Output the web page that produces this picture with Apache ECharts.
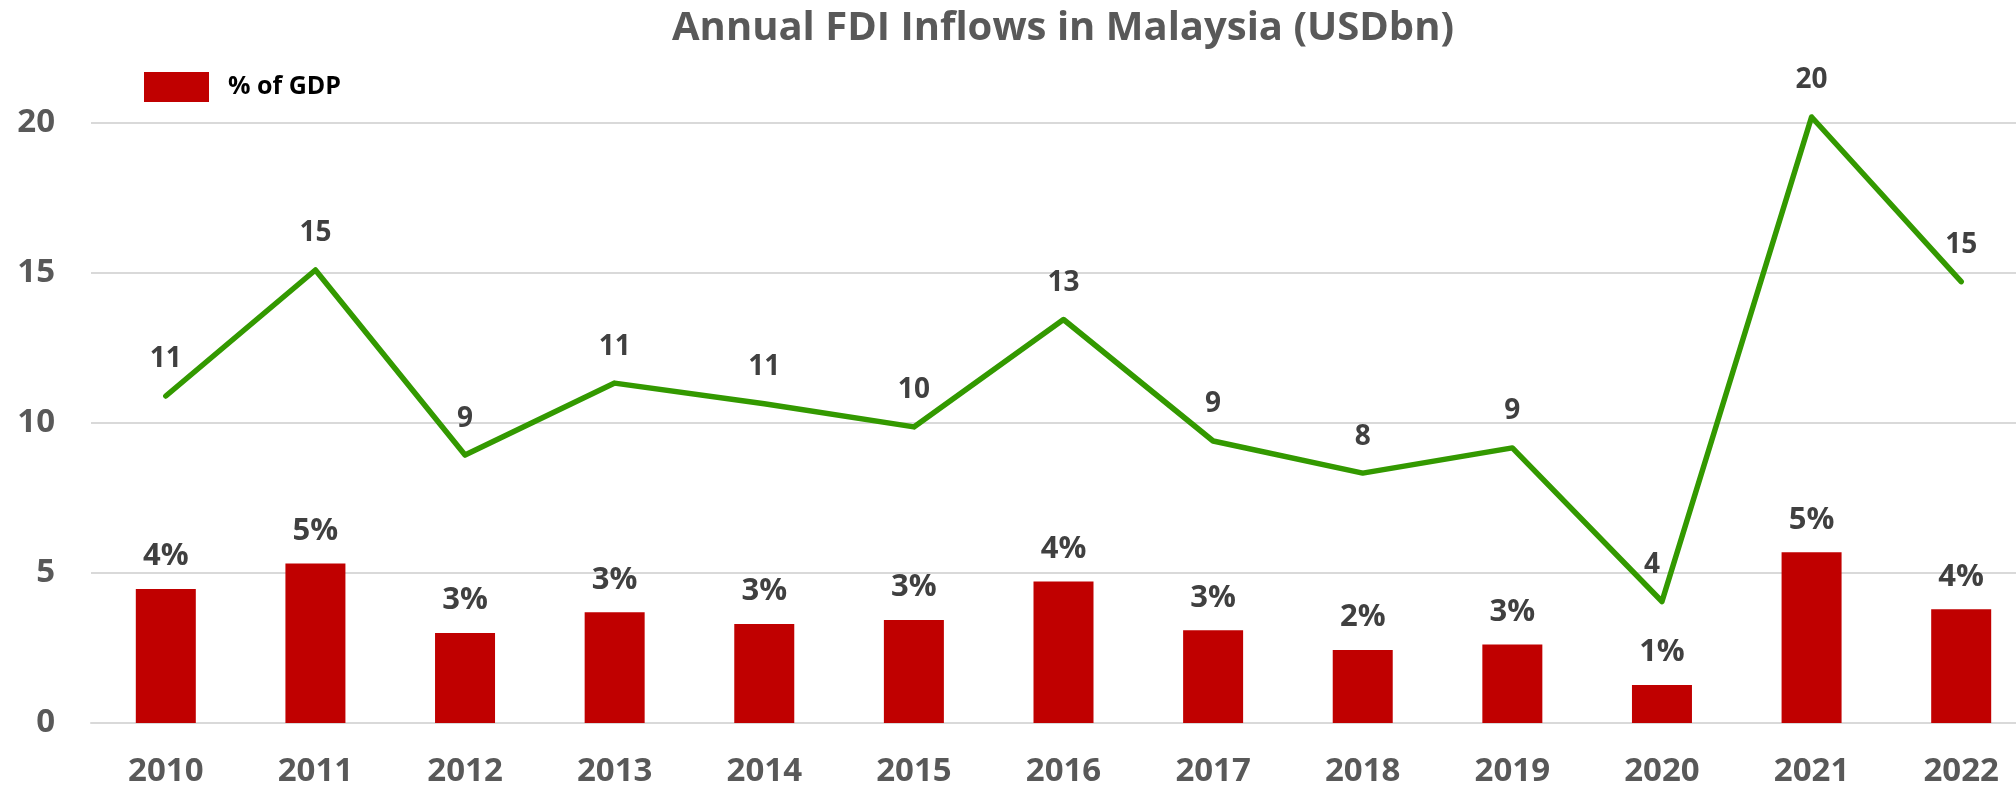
<!DOCTYPE html>
<html>
<head>
<meta charset="utf-8">
<title>Annual FDI Inflows in Malaysia</title>
<script src="https://cdn.jsdelivr.net/npm/echarts@6/dist/echarts.min.js"></script>
<style>
html, body { margin: 0; padding: 0; background: #fff; }
#main { width: 2016px; height: 788px; }
</style>
</head>
<body>
<div id="main"></div>
<script>
// data
const years = ['2010', '2011', '2012', '2013', '2014', '2015', '2016', '2017', '2018', '2019', '2020', '2021', '2022'];
const fdiUsdBn = [10.9, 15.1, 8.93, 11.33, 10.64, 9.87, 13.45, 9.4, 8.33, 9.17, 4.05, 20.2, 14.71];
const fdiLabels = ['11', '15', '9', '11', '11', '10', '13', '9', '8', '9', '4', '20', '15'];
const gdpShare = [4.47, 5.32, 3.0, 3.69, 3.3, 3.43, 4.72, 3.09, 2.43, 2.62, 1.27, 5.69, 3.79];
const gdpShareLabels = ['4%', '5%', '3%', '3%', '3%', '3%', '4%', '3%', '2%', '3%', '1%', '5%', '4%'];
const yMin = 0, yMax = 20, yStep = 5;

const FONT = '"Open Sans", "Noto Sans", sans-serif';

const chart = echarts.init(document.getElementById('main'));

chart.setOption({
  backgroundColor: '#ffffff',
  animation: false,
  title: {
    text: 'Annual FDI Inflows in Malaysia (USDbn)',
    left: 1063,
    top: 9,
    padding: 0,
    textAlign: 'center',
    textStyle: { fontFamily: FONT, fontSize: 40, fontWeight: 'bold', color: '#595959' }
  },
  legend: {
    data: ['% of GDP'],
    left: 144,
    top: 72,
    padding: 0,
    icon: 'rect',
    itemWidth: 65,
    itemHeight: 30,
    textStyle: { fontFamily: FONT, fontSize: 25, fontWeight: 'bold', color: '#000000', padding: [0, 0, 0, 14] }
  },
  // plot area runs past the right edge of the picture, as in the original
  grid: { left: 91, top: 123, width: 1945, bottom: 65, outerBoundsMode: 'none', containLabel: false },
  xAxis: {
    type: 'category',
    data: years,
    axisTick: { show: false },
    axisLine: { lineStyle: { color: '#d9d9d9', width: 2 } },
    axisLabel: { margin: 32, fontFamily: FONT, fontSize: 33, fontWeight: 'bold', color: '#595959' }
  },
  yAxis: {
    type: 'value',
    min: yMin,
    max: yMax,
    interval: yStep,
    axisLine: { show: false },
    axisTick: { show: false },
    splitLine: { lineStyle: { color: '#d9d9d9', width: 2 } },
    axisLabel: { margin: 36, fontFamily: FONT, fontSize: 33, fontWeight: 'bold', color: '#595959' }
  },
  series: [
    {
      name: '% of GDP',
      type: 'bar',
      data: gdpShare,
      barWidth: 60,
      itemStyle: { color: '#c00000' },
      label: {
        show: true,
        position: 'top',
        distance: 17,
        fontFamily: FONT,
        fontSize: 31,
        fontWeight: 'bold',
        color: '#404040',
        formatter: p => gdpShareLabels[p.dataIndex]
      }
    },
    {
      name: 'FDI inflows',
      type: 'line',
      clip: false,
      data: fdiUsdBn.map((v, i) => i === 10
        ? { value: v, label: { offset: [-10, 0] } }
        : v),
      symbol: 'circle',
      symbolSize: 1,
      itemStyle: { color: '#339900' },
      lineStyle: { color: '#339900', width: 5.5, cap: 'round', join: 'round' },
      label: {
        show: true,
        position: 'top',
        distance: 22,
        fontFamily: FONT,
        fontSize: 28,
        fontWeight: 'bold',
        color: '#404040',
        formatter: p => fdiLabels[p.dataIndex]
      }
    }
  ]
});
</script>
</body>
</html>
